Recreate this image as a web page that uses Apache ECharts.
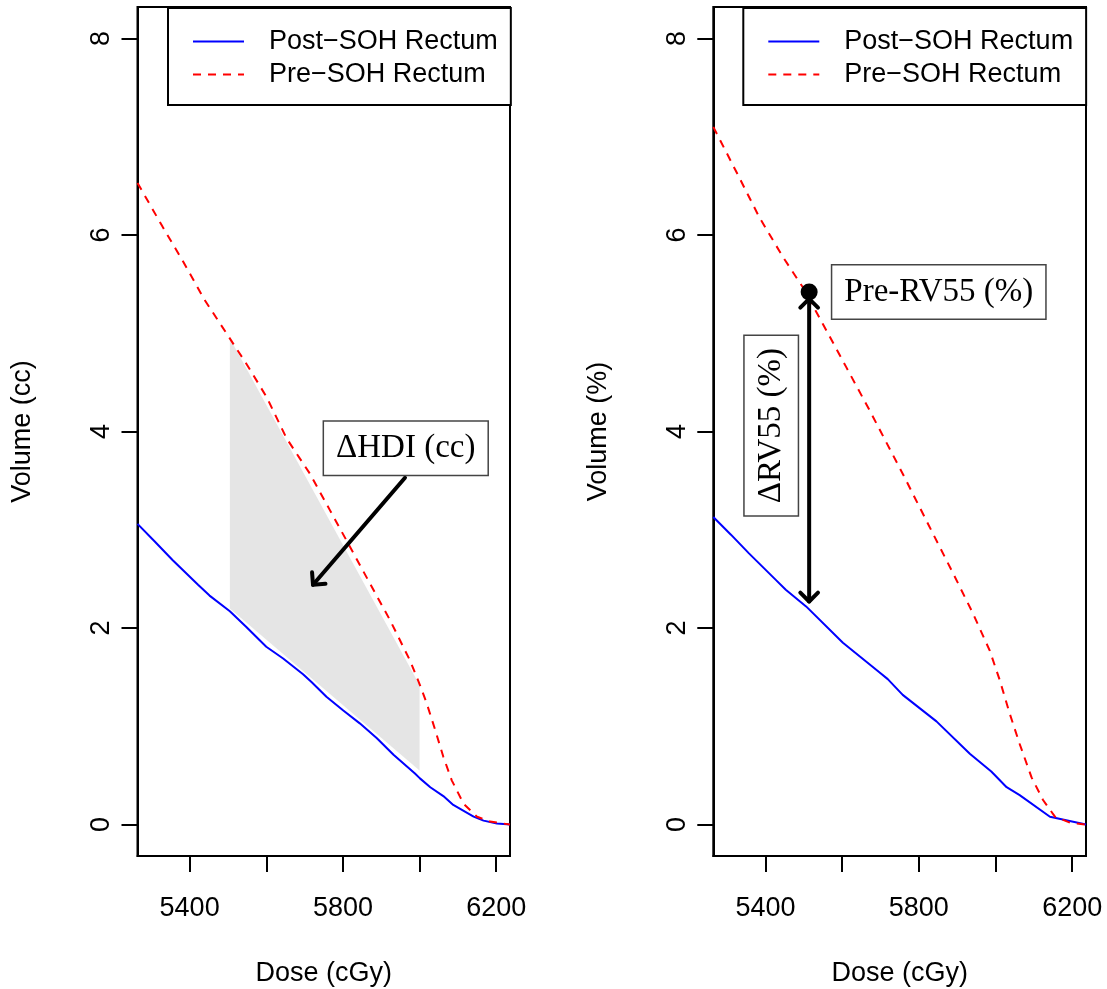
<!DOCTYPE html>
<html>
<head>
<meta charset="utf-8">
<script src="https://cdn.jsdelivr.net/npm/echarts@6/dist/echarts.min.js"></script>
<style>
  html, body { margin: 0; padding: 0; background: #fff; }
  #chart { width: 1107px; height: 989px; }
</style>
</head>
<body>
<div id="chart"></div>
<script>
// Rectum dose-volume histograms before and after spacer placement (SOH).
// Left: absolute volume (cc); right: relative volume (%).

const doseTicks = [5400, 5600, 5800, 6000, 6200];
const doseLabels = [5400, 5800, 6200];
const volumeTicks = [0, 2, 4, 6, 8];
const legendNames = ['Post\u2212SOH Rectum', 'Pre\u2212SOH Rectum'];

// Left panel, volume in cc
const postDoseCc = [5264, 5309, 5356, 5422, 5452, 5505, 5548, 5600, 5644, 5696, 5718, 5757, 5801, 5844, 5888, 5932, 5988, 6001, 6028, 6062, 6088, 6141, 6167, 6202, 6236];
const postVolCc  = [3.06, 2.88, 2.69, 2.44, 2.33, 2.17, 2.01, 1.81, 1.69, 1.53, 1.45, 1.30, 1.16, 1.03, 0.88, 0.71, 0.52, 0.47, 0.38, 0.29, 0.20, 0.08, 0.04, 0.01, 0.00];
const preDoseCc  = [5264, 5330, 5383, 5439, 5496, 5548, 5601, 5653, 5714, 5766, 5818, 5871, 5923, 5975, 6001, 6019, 6041, 6062, 6084, 6115, 6150, 6184, 6236];
const preVolCc   = [6.53, 6.08, 5.73, 5.34, 5.00, 4.69, 4.35, 3.93, 3.57, 3.20, 2.83, 2.45, 2.08, 1.67, 1.42, 1.23, 0.96, 0.69, 0.45, 0.21, 0.08, 0.03, 0.00];

// Right panel, volume in %
const postDosePct = [5264, 5310, 5357, 5427, 5453, 5506, 5602, 5697, 5719, 5758, 5846, 5933, 5989, 6029, 6063, 6142, 6236];
const postVolPct  = [3.13, 2.95, 2.76, 2.49, 2.39, 2.22, 1.85, 1.55, 1.48, 1.32, 1.05, 0.72, 0.54, 0.38, 0.30, 0.08, 0.00];
const preDosePct  = [5264, 5331, 5384, 5445, 5497, 5549, 5610, 5671, 5758, 5837, 5889, 5941, 5985, 6011, 6037, 6063, 6094, 6124, 6155, 6194, 6236];
const preVolPct   = [7.10, 6.59, 6.18, 5.78, 5.47, 5.10, 4.66, 4.22, 3.57, 2.96, 2.56, 2.15, 1.77, 1.47, 1.13, 0.82, 0.48, 0.25, 0.08, 0.02, 0.00];

// Shaded band between the curves, 5500-6000 cGy
const hdiDose = [5505, 6000, 6000, 5505];
const hdiVol  = [4.95, 1.42, 0.55, 2.20];

// Annotations: arrows [dose1, vol1, dose2, vol2, heads], labels [dose, vol, rotated]
const hdiArrow = [5962, 3.53, 5722, 2.44, 1];
const rvArrow  = [5514, 2.27, 5514, 5.35, 2];
const preRv55Point = [5514, 5.42];
const leftLabelText = ['\u0394HDI (cc)'];
const leftLabelPos  = [[5964, 3.83, 0]];
const rightLabelText = ['Pre-RV55 (%)', '\u0394RV55 (%)'];
const rightLabelPos  = [[5852, 5.42, 0], [5415, 4.06, 1]];

const pairs = (xs, ys) => xs.map((x, i) => [x, ys[i]]);

const SANS = '"Liberation Sans", Arial, Helvetica, sans-serif';
const SERIF = '"Liberation Serif", "Times New Roman", serif';
const BLUE = '#0000ff';
const RED = '#ff0000';

function xAxisFor(gridIndex) {
  return {
    type: 'value', gridIndex, min: 5264, max: 6236,
    name: 'Dose (cGy)', nameLocation: 'middle', nameGap: 104,
    nameTextStyle: { fontSize: 27, fontFamily: SANS, color: '#000' },
    axisLine: { show: true, onZero: false, lineStyle: { color: '#000', width: 2 } },
    axisTick: { show: true, customValues: doseTicks, length: 16, lineStyle: { color: '#000', width: 2 } },
    axisLabel: { customValues: doseLabels, margin: 39, fontSize: 27, fontFamily: SANS, color: '#000',
                 formatter: v => String(v) },
    splitLine: { show: false }
  };
}

function yAxisFor(gridIndex, name) {
  return {
    type: 'value', gridIndex, min: -0.32, max: 8.32,
    name, nameLocation: 'middle', nameGap: 101, nameRotate: 90,
    nameTextStyle: { fontSize: 27, fontFamily: SANS, color: '#000' },
    axisLine: { show: true, onZero: false, lineStyle: { color: '#000', width: 2 } },
    axisTick: { show: true, customValues: volumeTicks, length: 16, lineStyle: { color: '#000', width: 2 } },
    axisLabel: { customValues: volumeTicks, rotate: 90, margin: 22, fontSize: 27, fontFamily: SANS, color: '#000',
                 formatter: v => String(v) },
    splitLine: { show: false }
  };
}

function legendFor(left) {
  return {
    data: legendNames, left, top: 8, orient: 'vertical',
    itemWidth: 51, itemHeight: 14, itemGap: 6,
    padding: [20, 13, 17, 24],
    borderColor: '#000', borderWidth: 2, backgroundColor: '#fff',
    selectedMode: false,
    itemStyle: { opacity: 0 },
    textStyle: { fontSize: 27, fontFamily: SANS, color: '#000', padding: [0, 0, 0, 20] }
  };
}

function lineSeries(name, data, axis, color, dashed) {
  return {
    type: 'line', name, data, xAxisIndex: axis, yAxisIndex: axis,
    showSymbol: false, symbol: 'none', smooth: false, z: 3,
    lineStyle: { color, width: 2, type: dashed ? [8, 7] : 'solid' },
    itemStyle: { color }
  };
}

function arrowItem(params, api) {
  const a = api.coord([api.value(0), api.value(1)]);
  const b = api.coord([api.value(2), api.value(3)]);
  const both = api.value(4) === 2;
  const style = { stroke: '#000', lineWidth: 4, fill: null, lineCap: 'round', lineJoin: 'round' };
  const head = (tip, from) => {
    const ang = Math.atan2(from[1] - tip[1], from[0] - tip[0]);
    const L = 12.5, h = Math.PI / 4;
    return {
      type: 'polyline',
      shape: { points: [
        [tip[0] + L * Math.cos(ang + h), tip[1] + L * Math.sin(ang + h)],
        [tip[0], tip[1]],
        [tip[0] + L * Math.cos(ang - h), tip[1] + L * Math.sin(ang - h)]
      ] },
      style
    };
  };
  const children = [
    { type: 'line', shape: { x1: a[0], y1: a[1], x2: b[0], y2: b[1] }, style }
  ];
  children.push(head(b, a));
  if (both) children.push(head(a, b));
  return { type: 'group', children };
}

function labelRenderer(texts) {
  return function (params, api) {
    const p = api.coord([api.value(0), api.value(1)]);
    return {
      type: 'text', x: p[0], y: p[1],
      rotation: api.value(2) ? Math.PI / 2 : 0,
      style: {
        text: texts[params.dataIndex],
        fontSize: 33, fontFamily: SERIF, fill: '#000',
        align: 'center', verticalAlign: 'middle',
        backgroundColor: '#fff', borderColor: '#444', borderWidth: 1.5,
        padding: [10, 12]
      }
    };
  };
}

const gridBase = {
  top: 7, bottom: 133, show: true, borderColor: '#000', borderWidth: 2,
  backgroundColor: 'transparent', containLabel: false, outerBoundsMode: 'none'
};

const option = {
  animation: false,
  backgroundColor: '#fff',
  grid: [
    Object.assign({ left: 137.5, right: 597 }, gridBase),
    Object.assign({ left: 713.3, right: 21 }, gridBase)
  ],
  xAxis: [xAxisFor(0), xAxisFor(1)],
  yAxis: [yAxisFor(0, 'Volume (cc)'), yAxisFor(1, 'Volume (%)')],
  legend: [legendFor(168), legendFor(743.3)],
  series: [
    {
      type: 'custom', name: 'hdiBand', xAxisIndex: 0, yAxisIndex: 0, z: 1,
      data: [[hdiDose[0], hdiVol[0]]],
      renderItem: (params, api) => ({
        type: 'polygon',
        shape: { points: hdiDose.map((d, i) => api.coord([d, hdiVol[i]])) },
        style: { fill: '#e5e5e5' }
      })
    },
    lineSeries(legendNames[0], pairs(postDoseCc, postVolCc), 0, BLUE, false),
    lineSeries(legendNames[1], pairs(preDoseCc, preVolCc), 0, RED, true),
    {
      type: 'custom', name: 'hdiArrow', xAxisIndex: 0, yAxisIndex: 0, z: 5,
      data: [hdiArrow], renderItem: arrowItem
    },
    {
      type: 'custom', name: 'leftLabels', xAxisIndex: 0, yAxisIndex: 0, z: 6,
      data: leftLabelPos, renderItem: labelRenderer(leftLabelText)
    },

    lineSeries(legendNames[0], pairs(postDosePct, postVolPct), 1, BLUE, false),
    lineSeries(legendNames[1], pairs(preDosePct, preVolPct), 1, RED, true),
    {
      type: 'custom', name: 'rvArrow', xAxisIndex: 1, yAxisIndex: 1, z: 5,
      data: [rvArrow], renderItem: arrowItem
    },
    {
      type: 'scatter', name: 'preRv55', xAxisIndex: 1, yAxisIndex: 1, z: 6,
      data: [preRv55Point], symbol: 'circle', symbolSize: 17,
      itemStyle: { color: '#000', opacity: 1 }
    },
    {
      type: 'custom', name: 'rightLabels', xAxisIndex: 1, yAxisIndex: 1, z: 6,
      data: rightLabelPos, renderItem: labelRenderer(rightLabelText)
    }
  ]
};

const chart = echarts.init(document.getElementById('chart'), null, { renderer: 'canvas' });
chart.setOption(option);
</script>
</body>
</html>
